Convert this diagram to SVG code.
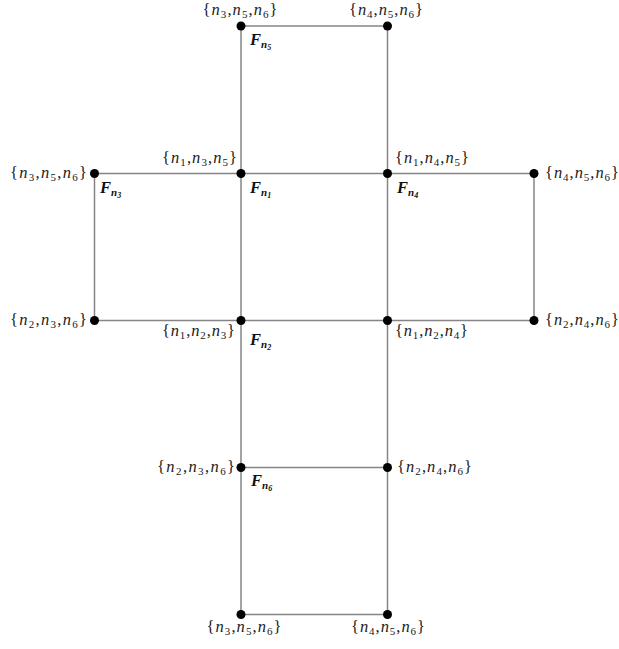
<svg xmlns="http://www.w3.org/2000/svg" width="619" height="649" viewBox="0 0 619 649">
<style>
.e{stroke:#858585;stroke-width:1.5;fill:none}
.d{fill:#000}
.s{font-family:"Liberation Serif","DejaVu Serif",serif;font-size:16.5px;font-style:italic;fill:#1a1a1a}
.s .b{font-style:normal}
.s .u{font-size:11px;font-style:normal}
.f{font-family:"Liberation Serif","DejaVu Serif",serif;font-size:16.5px;font-style:italic;font-weight:bold;fill:#111}
.f .u{font-size:11px}
.f .v{font-size:8px}
</style>
<rect width="619" height="649" fill="#fff"/>
<g id="connectors">
<line class="e" x1="241" y1="26" x2="241" y2="614.5"/>
<line class="e" x1="387.5" y1="26" x2="387.5" y2="614.5"/>
<line class="e" x1="241" y1="26" x2="387.5" y2="26"/>
<line class="e" x1="94.5" y1="173.5" x2="534" y2="173.5"/>
<line class="e" x1="94.5" y1="320.5" x2="534" y2="320.5"/>
<line class="e" x1="241" y1="467.5" x2="387.5" y2="467.5"/>
<line class="e" x1="241" y1="614.5" x2="387.5" y2="614.5"/>
<line class="e" x1="94.5" y1="173.5" x2="94.5" y2="320.5"/>
<line class="e" x1="534" y1="173.5" x2="534" y2="320.5"/>
</g>
<g id="v356a">
<circle class="d" cx="241" cy="26" r="4.5"/>
<text class="s" x="240" y="15" text-anchor="middle" textLength="75" lengthAdjust="spacing"><tspan class="b">{</tspan>n<tspan class="u" dy="3">3</tspan><tspan dy="-3" class="b">,</tspan>n<tspan class="u" dy="3">5</tspan><tspan dy="-3" class="b">,</tspan>n<tspan class="u" dy="3">6</tspan><tspan dy="-3" class="b">}</tspan></text>
<text class="f" x="250" y="45">F<tspan class="u" dy="3">n</tspan><tspan class="v" dy="2">5</tspan></text>
</g>
<g id="v456a">
<circle class="d" cx="387.5" cy="26" r="4.5"/>
<text class="s" x="386" y="15" text-anchor="middle" textLength="74" lengthAdjust="spacing"><tspan class="b">{</tspan>n<tspan class="u" dy="3">4</tspan><tspan dy="-3" class="b">,</tspan>n<tspan class="u" dy="3">5</tspan><tspan dy="-3" class="b">,</tspan>n<tspan class="u" dy="3">6</tspan><tspan dy="-3" class="b">}</tspan></text>
</g>
<g id="v356b">
<circle class="d" cx="94.5" cy="173.5" r="4.5"/>
<text class="s" x="87" y="178" text-anchor="end" textLength="77" lengthAdjust="spacing"><tspan class="b">{</tspan>n<tspan class="u" dy="3">3</tspan><tspan dy="-3" class="b">,</tspan>n<tspan class="u" dy="3">5</tspan><tspan dy="-3" class="b">,</tspan>n<tspan class="u" dy="3">6</tspan><tspan dy="-3" class="b">}</tspan></text>
<text class="f" x="100" y="193">F<tspan class="u" dy="3">n</tspan><tspan class="v" dy="2">3</tspan></text>
</g>
<g id="v135">
<circle class="d" cx="241" cy="173.5" r="4.5"/>
<text class="s" x="237" y="163" text-anchor="end" textLength="75" lengthAdjust="spacing"><tspan class="b">{</tspan>n<tspan class="u" dy="3">1</tspan><tspan dy="-3" class="b">,</tspan>n<tspan class="u" dy="3">3</tspan><tspan dy="-3" class="b">,</tspan>n<tspan class="u" dy="3">5</tspan><tspan dy="-3" class="b">}</tspan></text>
<text class="f" x="250" y="193">F<tspan class="u" dy="3">n</tspan><tspan class="v" dy="2">1</tspan></text>
</g>
<g id="v145">
<circle class="d" cx="387.5" cy="173.5" r="4.5"/>
<text class="s" x="395" y="163" textLength="74" lengthAdjust="spacing"><tspan class="b">{</tspan>n<tspan class="u" dy="3">1</tspan><tspan dy="-3" class="b">,</tspan>n<tspan class="u" dy="3">4</tspan><tspan dy="-3" class="b">,</tspan>n<tspan class="u" dy="3">5</tspan><tspan dy="-3" class="b">}</tspan></text>
<text class="f" x="397" y="193">F<tspan class="u" dy="3">n</tspan><tspan class="v" dy="2">4</tspan></text>
</g>
<g id="v456b">
<circle class="d" cx="534" cy="173.5" r="4.5"/>
<text class="s" x="545" y="178" textLength="74" lengthAdjust="spacing"><tspan class="b">{</tspan>n<tspan class="u" dy="3">4</tspan><tspan dy="-3" class="b">,</tspan>n<tspan class="u" dy="3">5</tspan><tspan dy="-3" class="b">,</tspan>n<tspan class="u" dy="3">6</tspan><tspan dy="-3" class="b">}</tspan></text>
</g>
<g id="v236a">
<circle class="d" cx="94.5" cy="320.5" r="4.5"/>
<text class="s" x="87" y="325" text-anchor="end" textLength="77" lengthAdjust="spacing"><tspan class="b">{</tspan>n<tspan class="u" dy="3">2</tspan><tspan dy="-3" class="b">,</tspan>n<tspan class="u" dy="3">3</tspan><tspan dy="-3" class="b">,</tspan>n<tspan class="u" dy="3">6</tspan><tspan dy="-3" class="b">}</tspan></text>
</g>
<g id="v123">
<circle class="d" cx="241" cy="320.5" r="4.5"/>
<text class="s" x="235" y="336" text-anchor="end" textLength="73" lengthAdjust="spacing"><tspan class="b">{</tspan>n<tspan class="u" dy="3">1</tspan><tspan dy="-3" class="b">,</tspan>n<tspan class="u" dy="3">2</tspan><tspan dy="-3" class="b">,</tspan>n<tspan class="u" dy="3">3</tspan><tspan dy="-3" class="b">}</tspan></text>
<text class="f" x="250" y="345">F<tspan class="u" dy="3">n</tspan><tspan class="v" dy="2">2</tspan></text>
</g>
<g id="v124">
<circle class="d" cx="387.5" cy="320.5" r="4.5"/>
<text class="s" x="395" y="336" textLength="73" lengthAdjust="spacing"><tspan class="b">{</tspan>n<tspan class="u" dy="3">1</tspan><tspan dy="-3" class="b">,</tspan>n<tspan class="u" dy="3">2</tspan><tspan dy="-3" class="b">,</tspan>n<tspan class="u" dy="3">4</tspan><tspan dy="-3" class="b">}</tspan></text>
</g>
<g id="v246a">
<circle class="d" cx="534" cy="320.5" r="4.5"/>
<text class="s" x="545" y="325" textLength="74" lengthAdjust="spacing"><tspan class="b">{</tspan>n<tspan class="u" dy="3">2</tspan><tspan dy="-3" class="b">,</tspan>n<tspan class="u" dy="3">4</tspan><tspan dy="-3" class="b">,</tspan>n<tspan class="u" dy="3">6</tspan><tspan dy="-3" class="b">}</tspan></text>
</g>
<g id="v236b">
<circle class="d" cx="241" cy="467.5" r="4.5"/>
<text class="s" x="235" y="472" text-anchor="end" textLength="78" lengthAdjust="spacing"><tspan class="b">{</tspan>n<tspan class="u" dy="3">2</tspan><tspan dy="-3" class="b">,</tspan>n<tspan class="u" dy="3">3</tspan><tspan dy="-3" class="b">,</tspan>n<tspan class="u" dy="3">6</tspan><tspan dy="-3" class="b">}</tspan></text>
<text class="f" x="251" y="486">F<tspan class="u" dy="3">n</tspan><tspan class="v" dy="2">6</tspan></text>
</g>
<g id="v246b">
<circle class="d" cx="387.5" cy="467.5" r="4.5"/>
<text class="s" x="397" y="472" textLength="75" lengthAdjust="spacing"><tspan class="b">{</tspan>n<tspan class="u" dy="3">2</tspan><tspan dy="-3" class="b">,</tspan>n<tspan class="u" dy="3">4</tspan><tspan dy="-3" class="b">,</tspan>n<tspan class="u" dy="3">6</tspan><tspan dy="-3" class="b">}</tspan></text>
</g>
<g id="v356c">
<circle class="d" cx="241" cy="614.5" r="4.5"/>
<text class="s" x="244" y="632" text-anchor="middle" textLength="75" lengthAdjust="spacing"><tspan class="b">{</tspan>n<tspan class="u" dy="3">3</tspan><tspan dy="-3" class="b">,</tspan>n<tspan class="u" dy="3">5</tspan><tspan dy="-3" class="b">,</tspan>n<tspan class="u" dy="3">6</tspan><tspan dy="-3" class="b">}</tspan></text>
</g>
<g id="v456c">
<circle class="d" cx="387.5" cy="614.5" r="4.5"/>
<text class="s" x="388" y="632" text-anchor="middle" textLength="74" lengthAdjust="spacing"><tspan class="b">{</tspan>n<tspan class="u" dy="3">4</tspan><tspan dy="-3" class="b">,</tspan>n<tspan class="u" dy="3">5</tspan><tspan dy="-3" class="b">,</tspan>n<tspan class="u" dy="3">6</tspan><tspan dy="-3" class="b">}</tspan></text>
</g>
</svg>
